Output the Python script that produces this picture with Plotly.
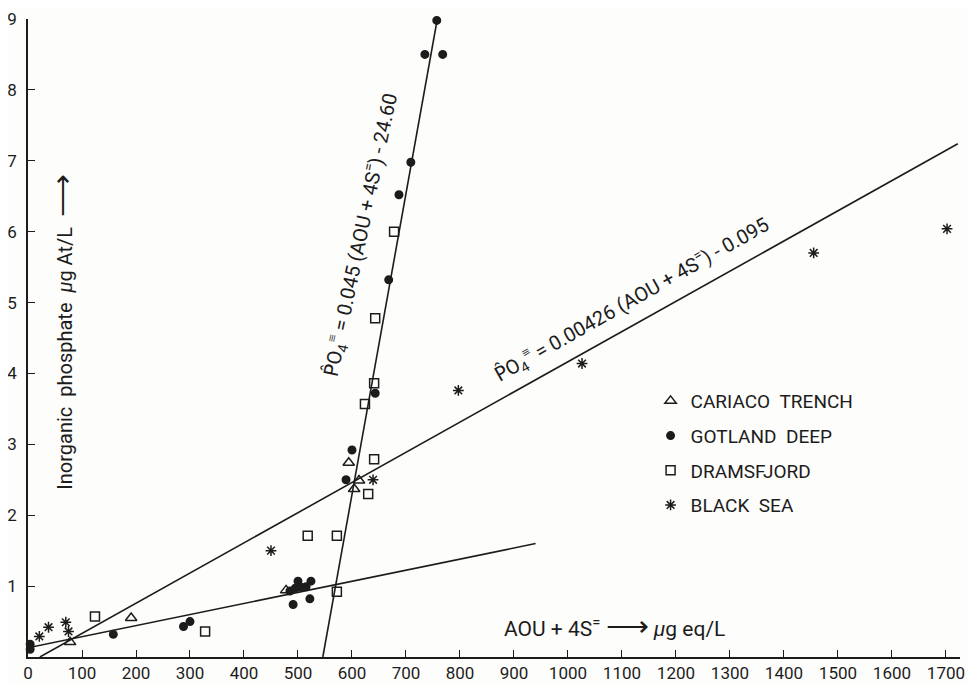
import plotly.graph_objects as go

# ---- data ----
cariaco_x = [78, 191, 478, 594, 604, 613]
cariaco_y = [0.21, 0.55, 0.94, 2.74, 2.37, 2.49]

gotland_x = [4, 4, 158, 288, 300, 485, 491, 495, 500, 507, 515, 522, 524,
             589, 600, 643, 668, 687, 709, 735, 757, 768]
gotland_y = [0.18, 0.11, 0.32, 0.43, 0.50, 0.93, 0.74, 0.97, 1.07, 0.98, 0.99,
             0.82, 1.07, 2.50, 2.92, 3.72, 5.32, 6.52, 6.98, 8.50, 8.98, 8.50]

dramsfjord_x = [124, 328, 518, 572, 572, 624, 630, 641, 641, 643, 678]
dramsfjord_y = [0.57, 0.36, 1.71, 1.71, 0.92, 3.57, 2.30, 2.79, 3.86, 4.78, 6.00]

blacksea_x = [21, 38, 70, 75, 450, 639, 797, 1026, 1455, 1702]
blacksea_y = [0.29, 0.42, 0.49, 0.36, 1.50, 2.50, 3.76, 4.14, 5.70, 6.04]

# regression line end points
low_line_x = [0, 940]
low_line_y = [0.13, 1.60]
mid_line_x = [22, 1722]
mid_line_y = [0.0, 7.24]
steep_line_x = [546, 758]
steep_line_y = [0.0, 9.0]

x_ticks = list(range(0, 1701, 100))
y_ticks = list(range(1, 10))

INK = "#1c1c1c"
FONT = "Roboto"
ARROW = '<span style="font-size:30px">\u27f6</span>'
SP = "\u00a0"
PHAT = '<span style="font-family:DejaVu Sans">P\u0302</span>'

fig = go.Figure()

for lx, ly in [(low_line_x, low_line_y), (mid_line_x, mid_line_y), (steep_line_x, steep_line_y)]:
    fig.add_trace(go.Scatter(x=lx, y=ly, mode="lines", line=dict(color=INK, width=1.6),
                             showlegend=False, hoverinfo="skip"))

series = [
    ("CARIACO" + SP + SP + "TRENCH", cariaco_x, cariaco_y, "triangle-up-open", 10),
    ("GOTLAND" + SP + SP + "DEEP", gotland_x, gotland_y, "circle", 7.5),
    ("DRAMSFJORD", dramsfjord_x, dramsfjord_y, "square-open", 9),
    ("BLACK" + SP + SP + "SEA", blacksea_x, blacksea_y, "asterisk-open", 9),
]
for i, (name, xs, ys, sym, sz) in enumerate(series):
    fig.add_trace(go.Scatter(
        x=xs, y=ys, mode="markers", name=name, legendgroup=f"g{i}",
        marker=dict(symbol=sym, size=sz, color=INK, line=dict(color=INK, width=1.5)),
        cliponaxis=False,
    ))

annotations = [
    dict(text=PHAT + "O<sub>4</sub><sup>\u2261</sup> = 0.045 (AOU + 4S<sup>=</sup>) - 24.60",
         x=615, y=5.95, xref="x", yref="y", textangle=-78, showarrow=False,
         xanchor="center", yanchor="middle",
         font=dict(family=FONT, size=20, color=INK)),
    dict(text=PHAT + "O<sub>4</sub><sup>\u2261</sup> = 0.00426 (AOU + 4S<sup>=</sup>) - 0.095",
         x=1118, y=5.04, xref="x", yref="y", textangle=-29.5, showarrow=False,
         xanchor="center", yanchor="middle",
         font=dict(family=FONT, size=20, color=INK)),
    dict(text="AOU + 4S<sup>=</sup> " + ARROW + " <i>\u00b5</i>g eq/L",
         x=1087, y=0.45, xref="x", yref="y", showarrow=False,
         xanchor="center", yanchor="middle",
         font=dict(family=FONT, size=21, color=INK)),
    dict(text="Inorganic" + SP + SP + "phosphate" + SP + SP + "<i>\u00b5</i>g At/L" + SP + SP + ARROW,
         x=0.0365, y=0.51, xref="paper", yref="paper", textangle=-90, showarrow=False,
         xanchor="center", yanchor="middle",
         font=dict(family=FONT, size=20, color=INK)),
]

# the page body adds an 8px offset, so the figure is 8px smaller in each direction
fig.update_layout(
    width=968, height=677,
    margin=dict(l=20, r=16, t=11, b=28),
    paper_bgcolor="#fdfdfb", plot_bgcolor="#fdfdfb",
    font=dict(family=FONT, size=17, color=INK),
    annotations=annotations,
    legend=dict(x=0.668, y=0.431, xanchor="left", yanchor="top",
                bgcolor="rgba(0,0,0,0)", tracegroupgap=7,
                font=dict(family=FONT, size=19, color=INK)),
    xaxis=dict(range=[0, 1726], tickvals=x_ticks, ticks="inside", ticklen=7,
               tickwidth=1.3, tickcolor=INK, showline=True, linecolor=INK, linewidth=1.6,
               showgrid=False, zeroline=False, automargin=False, ticklabeloverflow="allow",
               tickfont=dict(family=FONT, size=17, color=INK)),
    yaxis=dict(range=[0, 9.0], tickvals=y_ticks, ticks="inside", ticklen=7,
               tickwidth=1.3, tickcolor=INK, showline=True, linecolor=INK, linewidth=1.6,
               showgrid=False, zeroline=False, automargin=False, ticklabeloverflow="allow",
               ticklabelstandoff=6,
               tickfont=dict(family=FONT, size=17, color=INK)),
)

fig.write_html("out.html")
